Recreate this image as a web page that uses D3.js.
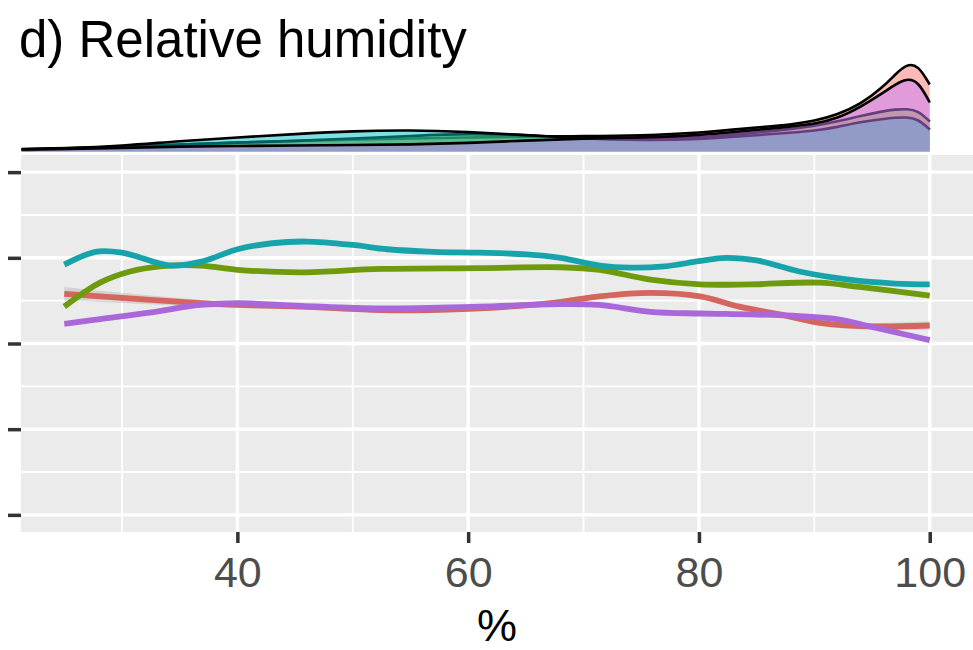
<!DOCTYPE html>
<html>
<head>
<meta charset="utf-8">
<script src="https://cdn.jsdelivr.net/npm/d3@7"></script>
<style>
  html, body { margin: 0; padding: 0; background: #ffffff; }
  svg { display: block; font-family: "Liberation Sans", Arial, sans-serif; }
</style>
</head>
<body>
<svg id="chart" width="973" height="650"></svg>
<script>
// ---- Smoothed fits per group (x = relative humidity, %) ----
const redX    = [25, 28.1, 36.8, 40, 45.5, 52.4, 56.7, 61, 67.1, 71.4, 75.8, 80.1, 83.5, 87, 90.5, 94.8, 100];
const redY    = [2.58, 2.55, 2.47, 2.45, 2.43, 2.39, 2.39, 2.41, 2.47, 2.55, 2.59, 2.55, 2.43, 2.34, 2.24, 2.20, 2.21];
const redSE   = [0.08, 0.065, 0.04, 0.035, 0.03, 0.03, 0.03, 0.03, 0.03, 0.03, 0.03, 0.03, 0.03, 0.03, 0.035, 0.04, 0.05];

const greenX  = [25, 28.1, 30.7, 33.3, 36.8, 40, 45.5, 52.4, 61, 68, 71.4, 75.8, 80.1, 84.4, 90.5, 93.9, 100];
const greenY  = [2.43, 2.71, 2.84, 2.90, 2.91, 2.86, 2.83, 2.87, 2.88, 2.89, 2.86, 2.745, 2.69, 2.69, 2.71, 2.66, 2.56];

const cyanX   = [25, 27.7, 30, 34.2, 37, 40, 43, 46, 50, 53, 57, 61, 65, 68, 71.4, 74, 77, 80, 82.3, 85, 88.7, 93, 97, 100];
const cyanY   = [2.92, 3.07, 3.06, 2.91, 2.96, 3.10, 3.17, 3.19, 3.15, 3.10, 3.07, 3.06, 3.04, 3.00, 2.91, 2.885, 2.90, 2.96, 3.00, 2.97, 2.84, 2.745, 2.70, 2.69];

const purpleX = [25, 28.1, 32.4, 36.8, 40, 45.5, 52.4, 61, 68, 71.4, 75.8, 80.1, 84.4, 88.7, 92.2, 94.8, 97.4, 100];
const purpleY = [2.23, 2.285, 2.36, 2.45, 2.47, 2.44, 2.41, 2.43, 2.46, 2.45, 2.37, 2.35, 2.34, 2.32, 2.28, 2.20, 2.12, 2.04];

// ---- Marginal densities of relative humidity per group ----
const densX      = [21.3, 25, 30, 35, 40, 45, 50, 55, 60, 65, 70, 75, 80, 85, 88, 90, 92, 94, 96, 97, 98, 99, 100];
const densRed    = [0.00125, 0.00175, 0.00225, 0.0035, 0.0045, 0.00525, 0.006, 0.0065, 0.007, 0.0075, 0.00765, 0.008, 0.00925, 0.012, 0.0135, 0.0152, 0.0185, 0.0235, 0.0325, 0.0385, 0.0438, 0.0432, 0.0335];
const densGreen  = [0.00075, 0.00125, 0.002, 0.0035, 0.0045, 0.00525, 0.0065, 0.00775, 0.009, 0.00825, 0.0065, 0.006, 0.0068, 0.0095, 0.0112, 0.0128, 0.015, 0.0178, 0.0202, 0.021, 0.0213, 0.0205, 0.015];
const densCyan   = [0.001, 0.0015, 0.00275, 0.00525, 0.007, 0.00875, 0.01025, 0.01075, 0.00975, 0.00825, 0.0065, 0.0055, 0.006, 0.0082, 0.0094, 0.0103, 0.0122, 0.0148, 0.0163, 0.0169, 0.0172, 0.0162, 0.011];
const densPurple = [0.001, 0.00125, 0.00175, 0.0025, 0.00275, 0.003, 0.00325, 0.0035, 0.00425, 0.0055, 0.0065, 0.007, 0.008, 0.0108, 0.0125, 0.0138, 0.0165, 0.0222, 0.0295, 0.0335, 0.0365, 0.0352, 0.0245];

// ---- Axis breaks ----
const xMajor = [40, 60, 80, 100];
const xMinor = [30, 50, 70, 90];
const yMajor = [0, 1, 2, 3, 4];
const yMinor = [0.5, 1.5, 2.5, 3.5];

const lineColors = ["#D4665E", "#6E9A0E", "#16A4AA", "#A967DA"];
const fillColors = ["#F8766D", "#7CAE00", "#00BFC4", "#C77CFF"];

const series = [
  { x: redX, y: redY, se: redSE, dens: densRed },
  { x: greenX, y: greenY, dens: densGreen },
  { x: cyanX, y: cyanY, dens: densCyan },
  { x: purpleX, y: purpleY, dens: densPurple }
];

const svg = d3.select("#chart");
const panel = { left: 21, right: 973, top: 155, bottom: 532 };

const x = d3.scaleLinear().domain([21.25, 103.75]).range([panel.left, panel.right]);
const y = d3.scaleLinear().domain([-0.2, 4.2]).range([panel.bottom, panel.top]);
const yd = d3.scaleLinear().domain([0, 0.0455]).range([151.5, 60.5]);

// Title
svg.append("text")
  .attr("x", 19).attr("y", 57)
  .attr("font-size", 51).attr("fill", "#000")
  .text("d) Relative humidity");

svg.append("clipPath").attr("id", "clipMain")
  .append("rect")
  .attr("x", panel.left).attr("y", panel.top)
  .attr("width", panel.right - panel.left).attr("height", panel.bottom - panel.top);

// ---- Marginal density strip ----
const gDens = svg.append("g");
series.forEach((s, i) => {
  const pts = densX.map((d, k) => [d, s.dens[k]]);
  const area = d3.area()
    .x(d => x(d[0])).y0(yd(0)).y1(d => yd(d[1]))
    .curve(d3.curveBasis);
  const line = d3.line()
    .x(d => x(d[0])).y(d => yd(d[1]))
    .curve(d3.curveBasis);
  gDens.append("path").attr("d", area(pts))
    .attr("fill", fillColors[i]).attr("fill-opacity", 0.5);
  gDens.append("path").attr("d", line(pts))
    .attr("fill", "none").attr("stroke", "#000").attr("stroke-width", 2.6)
    .attr("stroke-linejoin", "round");
});

// ---- Main panel ----
svg.append("rect")
  .attr("x", panel.left).attr("y", panel.top)
  .attr("width", panel.right - panel.left).attr("height", panel.bottom - panel.top)
  .attr("fill", "#EBEBEB");

const grid = svg.append("g");
grid.selectAll(".ymin").data(yMinor).join("line")
  .attr("x1", panel.left).attr("x2", panel.right)
  .attr("y1", d => y(d)).attr("y2", d => y(d))
  .attr("stroke", "#fff").attr("stroke-width", 1.8);
grid.selectAll(".xmin").data(xMinor).join("line")
  .attr("y1", panel.top).attr("y2", panel.bottom)
  .attr("x1", d => x(d)).attr("x2", d => x(d))
  .attr("stroke", "#fff").attr("stroke-width", 1.8);
grid.selectAll(".ymaj").data(yMajor).join("line")
  .attr("x1", panel.left).attr("x2", panel.right)
  .attr("y1", d => y(d)).attr("y2", d => y(d))
  .attr("stroke", "#fff").attr("stroke-width", 3.4);
grid.selectAll(".xmaj").data(xMajor).join("line")
  .attr("y1", panel.top).attr("y2", panel.bottom)
  .attr("x1", d => x(d)).attr("x2", d => x(d))
  .attr("stroke", "#fff").attr("stroke-width", 3.4);

const gLines = svg.append("g").attr("clip-path", "url(#clipMain)");

// confidence ribbon
series.forEach(s => {
  if (!s.se) return;
  const pts = s.x.map((d, k) => [d, s.y[k], s.se[k]]);
  const rib = d3.area()
    .x(d => x(d[0])).y0(d => y(d[1] - d[2])).y1(d => y(d[1] + d[2]))
    .curve(d3.curveCatmullRom.alpha(0.5));
  gLines.append("path").attr("d", rib(pts))
    .attr("fill", "#999999").attr("fill-opacity", 0.3);
});

series.forEach((s, i) => {
  const pts = s.x.map((d, k) => [d, s.y[k]]);
  const line = d3.line()
    .x(d => x(d[0])).y(d => y(d[1]))
    .curve(d3.curveCatmullRom.alpha(0.5));
  gLines.append("path").attr("d", line(pts))
    .attr("fill", "none").attr("stroke", lineColors[i])
    .attr("stroke-width", 5.8).attr("stroke-linecap", "butt");
});

// ---- Axes ----
const yAxis = svg.append("g")
  .attr("transform", `translate(${panel.left},0)`)
  .call(d3.axisLeft(y).tickValues(yMajor).tickFormat(() => "").tickSizeInner(13).tickSizeOuter(0));
yAxis.select(".domain").remove();
yAxis.selectAll(".tick line").attr("stroke", "#333333").attr("stroke-width", 3.5);

const xAxis = svg.append("g")
  .attr("transform", `translate(0,${panel.bottom})`)
  .call(d3.axisBottom(x).tickValues(xMajor).tickFormat(d3.format("d")).tickSizeInner(11).tickSizeOuter(0));
xAxis.select(".domain").remove();
xAxis.selectAll(".tick line").attr("stroke", "#333333").attr("stroke-width", 3.5);
xAxis.selectAll(".tick text")
  .attr("y", 55).attr("dy", 0)
  .attr("font-size", 43).attr("fill", "#4D4D4D")
  .attr("font-family", "Liberation Sans, Arial, sans-serif");

svg.append("text")
  .attr("x", (panel.left + panel.right) / 2).attr("y", 641)
  .attr("text-anchor", "middle")
  .attr("font-size", 45).attr("fill", "#000")
  .text("%");
</script>
</body>
</html>
